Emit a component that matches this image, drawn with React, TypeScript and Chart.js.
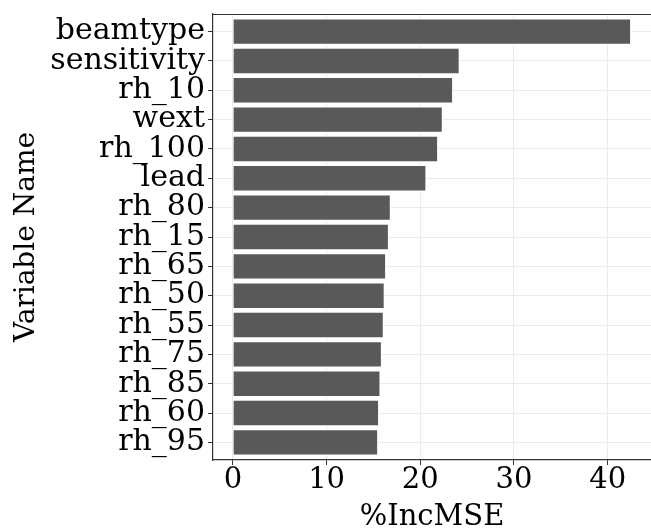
import React, { useEffect, useRef } from "react";
import { Chart, registerables } from "chart.js";

Chart.register(...registerables);

const variables = [
  "beamtype",
  "sensitivity",
  "rh_10",
  "wext",
  "rh_100",
  "lead",
  "rh_80",
  "rh_15",
  "rh_65",
  "rh_50",
  "rh_55",
  "rh_75",
  "rh_85",
  "rh_60",
  "rh_95",
];
const incMSE = [42.5, 24.2, 23.5, 22.4, 21.9, 20.65, 16.85, 16.65, 16.35, 16.2, 16.1, 15.9, 15.75, 15.6, 15.5];
const xTickValues = [0, 10, 20, 30, 40];
const xTitle = "%IncMSE";
const yTitle = "Variable Name";

const FONT = "'DejaVu Serif', serif";

export default function App() {
  const ref = useRef<HTMLCanvasElement | null>(null);

  useEffect(() => {
    document.body.style.margin = "0";
    const canvas = ref.current;
    if (!canvas) return;

    const dataMax = Math.max(...incMSE);
    const expand = dataMax * 0.05;

    const topBorder = {
      id: "topBorder",
      afterDraw(chart: any) {
        const { ctx, chartArea } = chart;
        ctx.save();
        ctx.strokeStyle = "#333333";
        ctx.lineWidth = 1.2;
        ctx.beginPath();
        ctx.moveTo(chartArea.left, chartArea.top + 0.5);
        ctx.lineTo(chartArea.right, chartArea.top + 0.5);
        ctx.stroke();
        ctx.restore();
      },
    };

    const chart = new Chart(canvas, {
      type: "bar",
      data: {
        datasets: [
          {
            data: variables.map((v, i) => ({ x: incMSE[i], y: i + 1 })) as any,
            backgroundColor: "#595959",
            borderColor: "#ffffff",
            borderWidth: 1,
            barPercentage: 0.9,
            categoryPercentage: 1,
          },
        ],
      },
      options: {
        indexAxis: "y",
        animation: false,
        responsive: false,
        devicePixelRatio: 1,
        layout: { padding: { top: 14, right: -8, left: 0, bottom: 0 } },
        plugins: {
          legend: { display: false },
          tooltip: { enabled: false },
        },
        scales: {
          x: {
            type: "linear",
            min: -expand,
            max: dataMax + expand,
            offset: false,
            afterBuildTicks: (scale: any) => {
              scale.ticks = xTickValues.map((v) => ({ value: v }));
            },
            afterFit: (scale: any) => {
              scale.height = 71;
            },
            grid: {
              offset: false,
              color: "#ebebeb",
              lineWidth: 1,
              tickColor: "#333333",
              tickLength: 5,
              tickWidth: 1,
            },
            border: { display: true, color: "#333333", width: 1.2 },
            ticks: {
              color: "#000000",
              font: { family: FONT, size: 29, lineHeight: 1 },
              padding: 1,
              maxRotation: 0,
              autoSkip: false,
            },
            title: {
              display: true,
              text: xTitle,
              color: "#000000",
              font: { family: FONT, size: 29, lineHeight: 1 },
              padding: { top: 0, bottom: -1 },
            },
          },
          y: {
            type: "linear",
            reverse: true,
            offset: false,
            min: 0.4,
            max: variables.length + 0.6,
            afterBuildTicks: (scale: any) => {
              scale.ticks = variables.map((_, i) => ({ value: i + 1 }));
            },
            afterFit: (scale: any) => {
              scale.width = 213;
              scale.paddingTop = 0;
              scale.paddingBottom = 0;
            },
            grid: {
              offset: false,
              color: "#ebebeb",
              lineWidth: 1,
              tickColor: "#333333",
              tickLength: 5,
              tickWidth: 1,
            },
            border: { display: true, color: "#333333", width: 1.2 },
            ticks: {
              color: "#000000",
              font: { family: FONT, size: 30, lineHeight: 1 },
              padding: 3,
              autoSkip: false,
              callback: (value: any) => variables[Math.round(Number(value)) - 1] ?? "",
            },
            title: {
              display: true,
              text: yTitle,
              color: "#000000",
              font: { family: FONT, size: 28, lineHeight: 1 },
              padding: { top: 13, bottom: 0 },
            },
          },
        },
      },
      plugins: [topBorder],
    });

    return () => chart.destroy();
  }, []);

  return (
    <div style={{ width: 651, height: 531 }}>
      <canvas ref={ref} width={651} height={531} style={{ display: "block" }} />
    </div>
  );
}
